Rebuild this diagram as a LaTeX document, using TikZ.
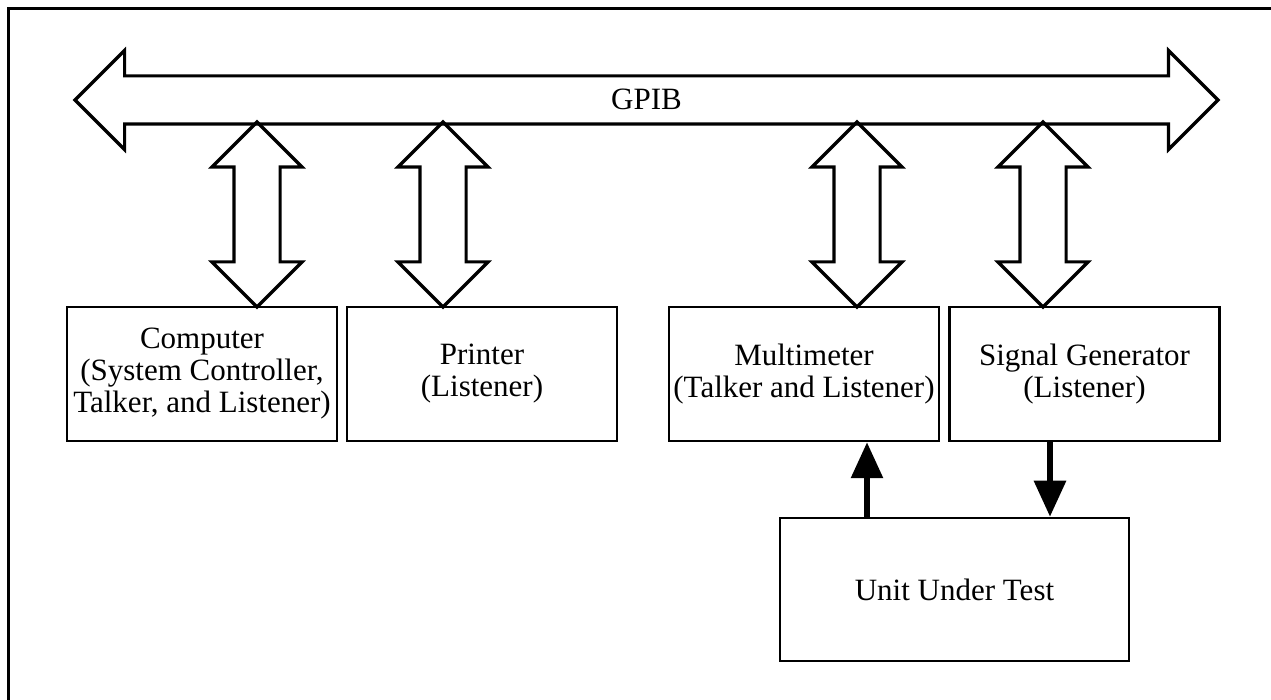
\documentclass[tikz,border=0pt]{standalone}
\usepackage{fontspec}
\setmainfont{Liberation Serif}
\usetikzlibrary{shapes.arrows,arrows.meta}
\tikzset{
  unit/.style={draw,line width=1.25pt,minimum width=135pt,minimum height=67pt,
    inner sep=0pt,align=center,font=\fontsize{15.5}{16}\selectfont},
  bus/.style={double arrow,draw,line width=1.6pt,inner sep=0pt,minimum width=0pt,
    double arrow head extend=12.75pt,text height=16.25pt,text depth=6.25pt,
    font=\fontsize{15.5}{16}\selectfont},
  busarrow/.style={double arrow,draw,line width=1.6pt,rotate=90,inner xsep=0pt,
    inner ysep=10.75pt,minimum width=0pt,minimum height=92.5pt,
    double arrow head extend=11pt},
  signal/.style={line width=3pt,-{Triangle[length=18pt,width=15.5pt]}}
}
\begin{document}
\begin{tikzpicture}[x=0.5pt,y=-0.5pt]
\useasboundingbox (0,0) rectangle (1271,700);
% frame
\draw[line width=1.5pt] (1271,9) -- (8,9) -- (8,700);
% bus
\node[bus,minimum height=571.5pt] (gpib) at (646.5,100) {GPIB};
% instruments
\node[unit] (comp) at (202,374) {Computer\\(System Controller,\\Talker, and Listener)};
\node[unit] (prn) at (482,374) {Printer\\(Listener)};
\node[unit] (dmm) at (804,374) {Multimeter\\(Talker and Listener)};
\node[unit] (gen) at (1084.5,374) {Signal Generator\\(Listener)};
\node[unit,minimum width=174.5pt,minimum height=71.5pt] (uut) at (954.5,589.5) {Unit Under Test};
% bus connections
\foreach \n/\x in {comp/257,prn/443,dmm/857,gen/1043}
  \node[busarrow] (\n bus) at (\x,214.5) {};
% signals
\draw[signal] ([xshift=-43.75pt]uut.north) -- ([xshift=-43.75pt]uut.north |- dmm.south);
\draw[signal] ([xshift=-17.25pt]gen.south) -- ([xshift=-17.25pt]gen.south |- uut.north);
\end{tikzpicture}
\end{document}
